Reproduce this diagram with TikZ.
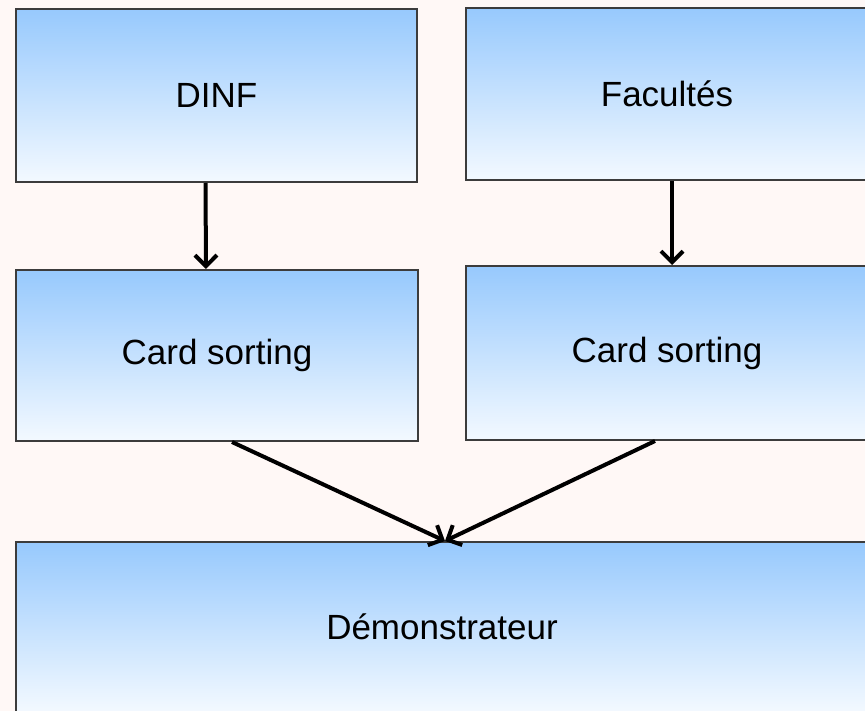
\documentclass[tikz,border=0pt]{standalone}
\usepackage{fontspec}
\setmainfont{Liberation Sans}
\usetikzlibrary{arrows.meta}
\definecolor{BgPink}{HTML}{FFF8F6}
\definecolor{BoxTop}{HTML}{97C9FD}
\definecolor{BoxBot}{HTML}{F3F9FF}
\definecolor{BoxLine}{HTML}{3C3C3C}

\begin{document}
\begin{tikzpicture}[x=1pt,y=-1pt,
  blok/.style={draw=BoxLine, line width=2pt, top color=BoxTop, bottom color=BoxBot,
    inner sep=0pt, font=\fontsize{35}{42}\selectfont},
  fleche/.style={line width=4pt, -{Straight Barb[length=11pt,width=22pt]}}]
  \clip (0,0) rectangle (865,711);
  \fill[BgPink] (0,0) rectangle (865,711);
  \node[blok, minimum width=401pt, minimum height=173pt] (dinf) at (216.5,95.5) {DINF};
  \node[blok, minimum width=402pt, minimum height=172pt] (fac) at (667,94) {Facultés};
  \node[blok, minimum width=402pt, minimum height=171pt] (cardl) at (217,355.5) {Card sorting};
  \node[blok, minimum width=402pt, minimum height=174pt] (cardr) at (667,353) {Card sorting};
  \node[blok, minimum width=852pt, minimum height=170pt] (demo) at (442,627) {Démonstrateur};
  \draw[fleche] ([xshift=-11pt]dinf.south) -- ([xshift=-11pt]cardl.north);
  \draw[fleche] ([xshift=5pt]fac.south) -- ([xshift=5pt]cardr.north);
  \draw[fleche] ([xshift=15pt]cardl.south) -- ([xshift=3pt]demo.north);
  \draw[fleche] ([xshift=-12pt]cardr.south) -- ([xshift=3pt]demo.north);
\end{tikzpicture}
\end{document}
